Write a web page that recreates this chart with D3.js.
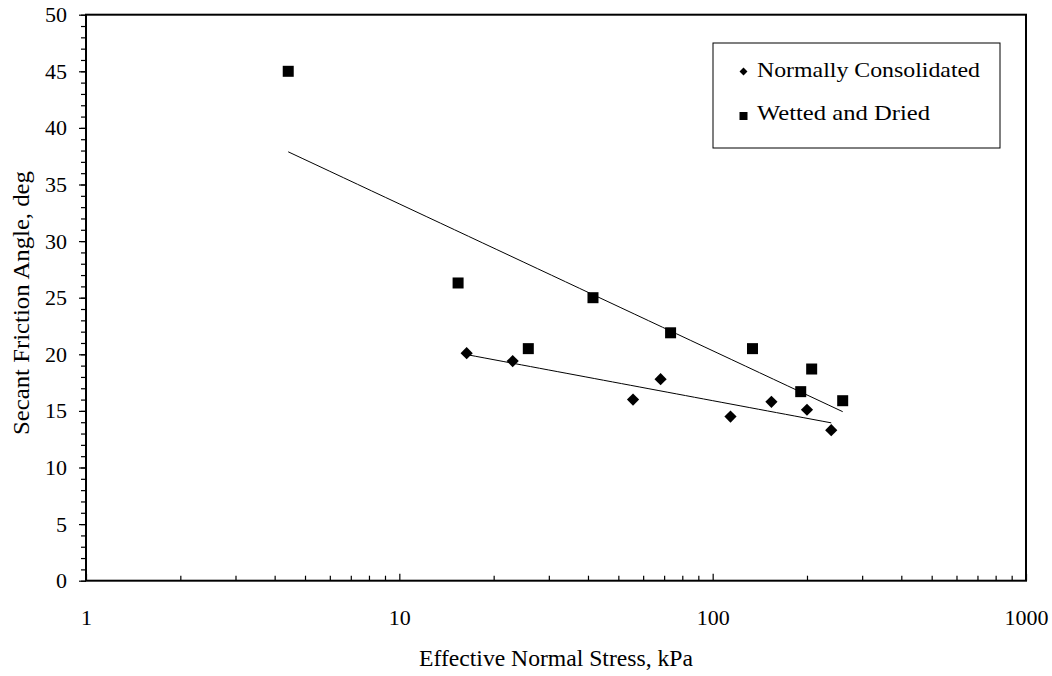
<!DOCTYPE html>
<html>
<head>
<meta charset="utf-8">
<script src="https://cdn.jsdelivr.net/npm/d3@7"></script>
<style>
  html, body { margin: 0; padding: 0; background: #fff; }
  svg { display: block; font-family: 'Liberation Serif', 'Times New Roman', serif; }
</style>
</head>
<body>
<svg id="chart" width="1052" height="676"></svg>
<script>
// ---- data ----
const ncStress = [16.4, 23.0, 55.7, 68.2, 114, 154, 200, 239];
const ncAngle  = [20.1, 19.4, 16.0, 17.8, 14.5, 15.8, 15.1, 13.3];
const wdStress = [4.42, 15.4, 25.8, 41.5, 73.4, 134, 191, 207, 260];
const wdAngle  = [45.0, 26.3, 20.5, 25.0, 21.9, 20.5, 16.7, 18.7, 15.9];
const xTickLabels = [1, 10, 100, 1000];
const yTickLabels = [0, 5, 10, 15, 20, 25, 30, 35, 40, 45, 50];
const seriesNames = ["Normally Consolidated", "Wetted and Dried"];

const FONT = "'Liberation Serif', 'Times New Roman', serif";
const svg = d3.select("#chart");
const x = d3.scaleLog().domain([1, 1000]).range([86, 1026]);
const y = d3.scaleLinear().domain([0, 50]).range([580.7, 14.7]);

// minor tick values
const xMinor = [];
[1, 10, 100].forEach(d => { for (let k = 2; k <= 9; k++) xMinor.push(d * k); });
const yMinor = d3.range(0, 51, 1);

// y axis minor & major ticks (outward)
svg.append("g").attr("transform", "translate(86,0)")
  .call(d3.axisLeft(y).tickValues(yMinor).tickSize(5).tickFormat(""))
  .call(g => g.select(".domain").remove())
  .selectAll("line").attr("stroke", "#000").attr("stroke-width", 1.2);
svg.append("g").attr("transform", "translate(86,0)")
  .call(d3.axisLeft(y).tickValues(yTickLabels).tickSize(7).tickPadding(12))
  .call(g => g.select(".domain").remove())
  .call(g => g.selectAll("line").attr("stroke", "#000").attr("stroke-width", 1.2))
  .call(g => g.selectAll("text").attr("font-size", 22).attr("fill", "#000")
      .style("font-family", FONT));

// x axis minor & major ticks (inward)
svg.append("g").attr("transform", "translate(0,580.7)")
  .call(d3.axisBottom(x).tickValues(xMinor).tickSize(-5).tickFormat(""))
  .call(g => g.select(".domain").remove())
  .selectAll("line").attr("stroke", "#000").attr("stroke-width", 1.2);
svg.append("g").attr("transform", "translate(0,580.7)")
  .call(d3.axisBottom(x).tickValues(xTickLabels).tickSizeInner(-7).tickSizeOuter(0)
        .tickPadding(0).tickFormat(d3.format("d")))
  .call(g => g.select(".domain").remove())
  .call(g => g.selectAll("line").attr("stroke", "#000").attr("stroke-width", 1.2))
  .call(g => g.selectAll("text").attr("font-size", 22).attr("fill", "#000")
      .attr("y", 44).attr("dy", 0).style("font-family", FONT));

// plot frame
svg.append("rect")
  .attr("x", x(1)).attr("y", y(50))
  .attr("width", x(1000) - x(1)).attr("height", y(0) - y(50))
  .attr("fill", "none").attr("stroke", "#000").attr("stroke-width", 2);

// logarithmic trendlines (least squares in log space)
function logFit(xs, ys) {
  const lx = xs.map(v => Math.log10(v));
  const mx = d3.mean(lx), my = d3.mean(ys);
  let sxy = 0, sxx = 0;
  lx.forEach((v, i) => { sxy += (v - mx) * (ys[i] - my); sxx += (v - mx) * (v - mx); });
  const b = sxy / sxx, a = my - b * mx;
  const [x0, x1] = d3.extent(xs);
  return d3.range(0, 41).map(i => {
    const xv = Math.pow(10, Math.log10(x0) + (Math.log10(x1) - Math.log10(x0)) * i / 40);
    return [xv, a + b * Math.log10(xv)];
  });
}
const line = d3.line().x(d => x(d[0])).y(d => y(d[1]));
[[wdStress, wdAngle], [ncStress, ncAngle]].forEach(([xs, ys]) => {
  svg.append("path").attr("d", line(logFit(xs, ys)))
    .attr("fill", "none").attr("stroke", "#000").attr("stroke-width", 1);
});

// markers
const diamond = d3.symbol().type(d3.symbolDiamond2).size(95);
svg.append("g").selectAll("path").data(ncStress.map((v, i) => [v, ncAngle[i]])).join("path")
  .attr("d", diamond)
  .attr("transform", d => `translate(${x(d[0])},${y(d[1])})`)
  .attr("fill", "#000");
svg.append("g").selectAll("rect").data(wdStress.map((v, i) => [v, wdAngle[i]])).join("rect")
  .attr("x", d => x(d[0]) - 5.5).attr("y", d => y(d[1]) - 5.5)
  .attr("width", 11).attr("height", 11).attr("fill", "#000");

// axis titles
svg.append("text").attr("x", 556).attr("y", 666).attr("text-anchor", "middle")
  .attr("font-size", 23).style("font-family", FONT)
  .attr("textLength", 274).attr("lengthAdjust", "spacingAndGlyphs")
  .text("Effective Normal Stress, kPa");
svg.append("text").attr("transform", "translate(29,303) rotate(-90)")
  .attr("text-anchor", "middle").attr("font-size", 23).style("font-family", FONT)
  .attr("textLength", 264).attr("lengthAdjust", "spacingAndGlyphs")
  .text("Secant Friction Angle, deg");

// legend
const lg = svg.append("g");
lg.append("rect").attr("x", 713).attr("y", 43).attr("width", 287).attr("height", 105)
  .attr("fill", "#fff").attr("stroke", "#000").attr("stroke-width", 1);
lg.append("path").attr("d", d3.symbol().type(d3.symbolDiamond2).size(40))
  .attr("transform", "translate(743.5,71.5)").attr("fill", "#000");
lg.append("rect").attr("x", 739.5).attr("y", 112).attr("width", 8).attr("height", 8).attr("fill", "#000");
lg.append("text").attr("x", 757).attr("y", 77).attr("font-size", 22).style("font-family", FONT)
  .attr("textLength", 223).attr("lengthAdjust", "spacingAndGlyphs").text(seriesNames[0]);
lg.append("text").attr("x", 757).attr("y", 120).attr("font-size", 22).style("font-family", FONT)
  .attr("textLength", 173).attr("lengthAdjust", "spacingAndGlyphs").text(seriesNames[1]);
</script>
</body>
</html>
